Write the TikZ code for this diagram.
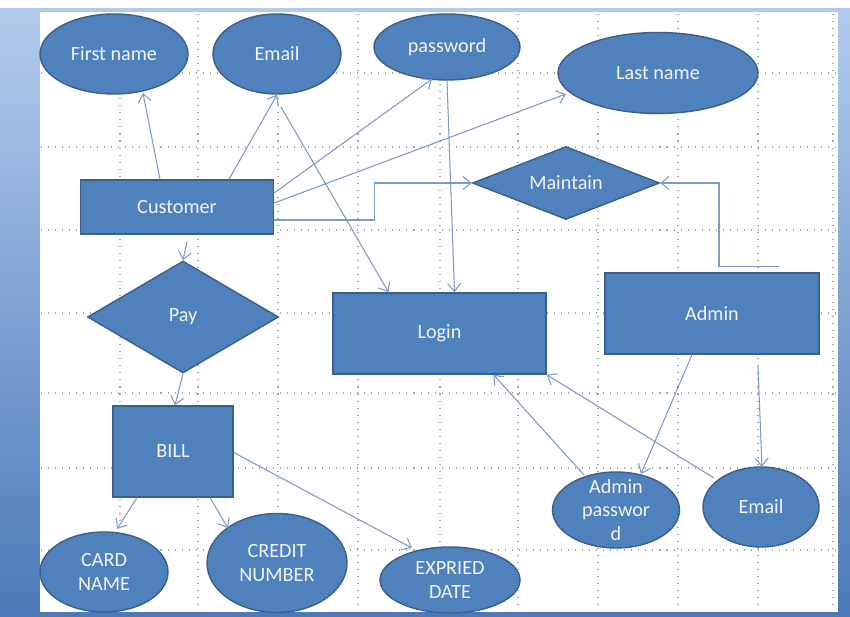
\documentclass[tikz,border=0pt]{standalone}
\usepackage{fontspec}
\setmainfont{Carlito}
\usepackage{xcolor}
\usepackage{tikz}
\usetikzlibrary{
arrows.meta,
shapes.geometric
}
\definecolor{boxfill}{HTML}{4F81BD}
\definecolor{boxline}{HTML}{3A5F8C}
\definecolor{linkcol}{HTML}{7E9BC0}
\definecolor{frametop}{HTML}{B2CBEC}
\definecolor{framebot}{HTML}{4C79B9}

\begin{document}
\begin{tikzpicture}[
x=0.02cm,y=-0.02cm,
font=\fontsize{11.5}{13.6}\selectfont,
shape base/.style={
draw=boxline,
fill=boxfill,
line width=0.8pt,
text=white!92!boxfill,
inner sep=0pt,
align=center
},
entity/.style={shape base,rectangle,minimum width=#1},
attrib/.style={shape base,ellipse},
relation/.style={shape base,diamond,aspect=2.5},
txt/.style={text=white!92!boxfill,align=center,font=\fontsize{11.5}{13.6}\selectfont},
link/.style={-{Straight Barb[length=1.6mm,width=2.6mm]},draw=linkcol,line width=0.6pt},
gridline/.style={draw=gray!70,line width=0.6pt,dash pattern=on 0.6pt off 3.4pt}
]

\fill[white] (0,0) rectangle (850,617);
\shade[top color=frametop,bottom color=framebot] (0,9) rectangle (850,617);
\fill[white] (40,12) rectangle (838,612);

\foreach \gx in {120,198,278,358,440,518,598,678,758,833}
  \draw[gridline] (\gx,14) -- (\gx,611);
\foreach \gy in {73,147,230,313,393,468,550}
  \draw[gridline] (41,\gy) -- (837,\gy);

\node[attrib,minimum width=2.96cm,minimum height=1.6cm,label={[txt]center:First name}] (fname) at (114,54) {};
\node[attrib,minimum width=2.56cm,minimum height=1.6cm,label={[txt]center:Email}] (email) at (277,54) {};
\node[attrib,minimum width=2.92cm,minimum height=1.32cm,label={[txt]center:password}] (pass) at (447,47) {};
\node[attrib,minimum width=4.0cm,minimum height=1.62cm,label={[txt]center:Last name}] (lname) at (658,73) {};

\node[entity=3.86cm,minimum height=1.08cm] (cust) at (177,207) {Customer};
\node[relation,minimum width=3.74cm,minimum height=1.46cm] (maint) at (566,183) {Maintain};
\node[relation,minimum width=3.82cm,minimum height=2.24cm] (pay) at (183,317) {Pay};
\node[entity=4.26cm,minimum height=1.62cm] (login) at (439.5,333.5) {Login};
\node[entity=4.28cm,minimum height=1.62cm] (admin) at (712,313.5) {Admin};
\node[entity=2.4cm,minimum height=1.82cm] (bill) at (173,451.5) {BILL};

\node[attrib,minimum width=2.56cm,minimum height=1.6cm,label={[txt]center:CARD\\NAME}] (card) at (104,572) {};
\node[attrib,minimum width=2.8cm,minimum height=1.98cm,label={[txt]center:CREDIT\\NUMBER}] (credit) at (277,563) {};
\node[attrib,minimum width=2.8cm,minimum height=1.32cm,label={[txt]center:EXPRIED\\DATE}] (expd) at (450,580) {};
\node[attrib,minimum width=2.54cm,minimum height=1.52cm,label={[txt]center:Admin\\passwor\\d}] (apass) at (616,510) {};
\node[attrib,minimum width=2.32cm,minimum height=1.6cm,label={[txt]center:Email}] (aemail) at (761,507) {};

\coordinate (admtip) at ([shift={(67,-6)}]admin.north);

\draw[link] ([shift={(-17,0)}]cust.north) -- ([shift={(29,39)}]fname.center);
\draw[link] ([shift={(52,0)}]cust.north) -- (email.south);
\draw[link] ([shift={(0,-14)}]cust.east) -- ([shift={(-15,32)}]pass.center);
\draw[link] ([shift={(0,-4)}]cust.east) -- ([shift={(-92,21)}]lname.center);
\draw[link] ([shift={(0,13)}]cust.east) -- ++(100,0) |- (maint.west);
\draw[link] ([shift={(4,53)}]email.center) -- ([shift={(-51,0)}]login.north);
\draw[link] (pass.south) -- ([shift={(15,0)}]login.north);
\draw[link] (admtip) -- ++(-60,0) |- (maint.east);
\draw[link] ([shift={(10,7)}]cust.south) -- (pay.north);
\draw[link] (pay.south) -- ([shift={(2,0)}]bill.north);
\draw[link] ([shift={(-36,0)}]bill.south) -- ([shift={(13,-43)}]card.center);
\draw[link] ([shift={(37,0)}]bill.south) -- ([shift={(-49,-35)}]credit.center);
\draw[link] ([shift={(0,1)}]bill.east) -- ([shift={(-38,-32)}]expd.center);
\draw[link] ([shift={(-20,0)}]admin.south) -- ([shift={(25,-36)}]apass.center);
\draw[link] ([shift={(46,12)}]admin.south) -- ([shift={(1,-40)}]aemail.center);
\draw[link] ([shift={(-32,-35)}]apass.center) -- ([shift={(54,0)}]login.south);
\draw[link] ([shift={(-47,-29)}]aemail.center) -- (login.south east);

\end{tikzpicture}
\end{document}
